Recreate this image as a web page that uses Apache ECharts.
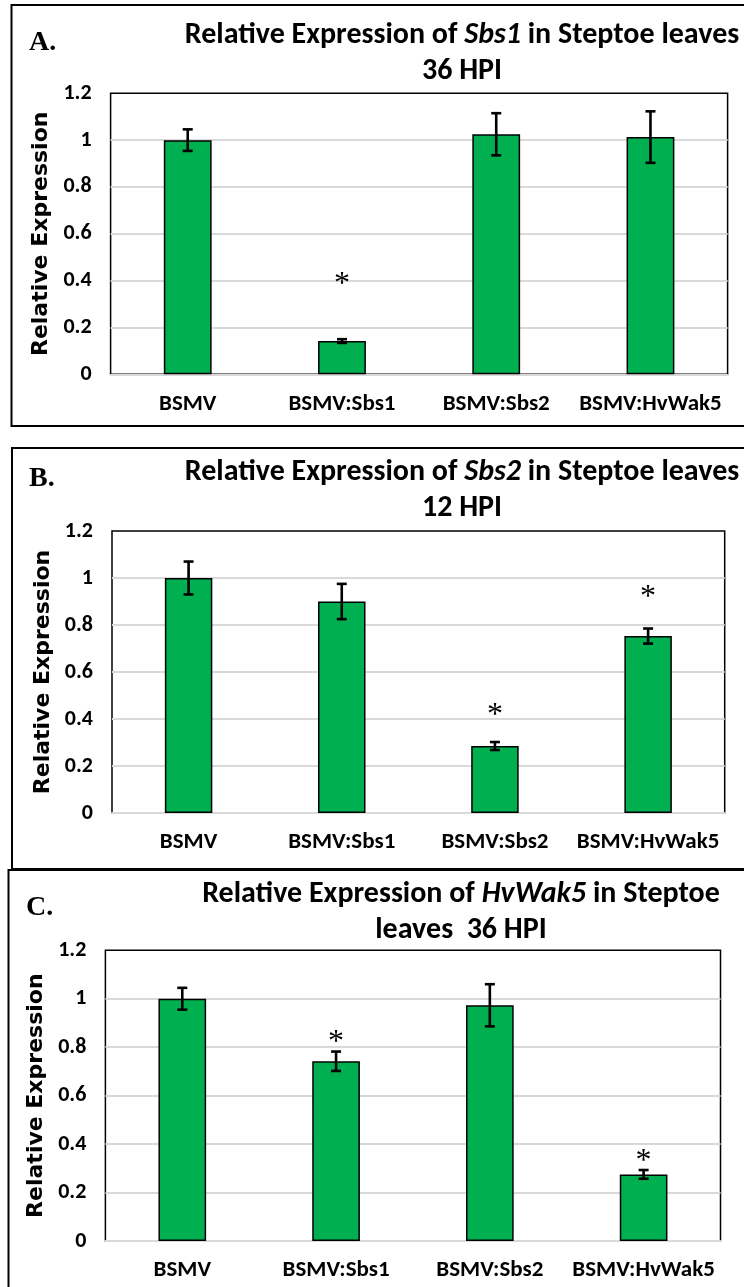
<!DOCTYPE html>
<html>
<head>
<meta charset="utf-8">
<script src="https://cdn.jsdelivr.net/npm/echarts@6/dist/echarts.min.js"></script>
<style>
  html, body { margin: 0; padding: 0; background: #fff; }
  #main { width: 744px; height: 1287px; }
</style>
</head>
<body>
<div id="main"></div>
<script>
const categories = ['BSMV', 'BSMV:Sbs1', 'BSMV:Sbs2', 'BSMV:HvWak5'];
const yTicks = [0, 0.2, 0.4, 0.6, 0.8, 1, 1.2];

// A. Sbs1, 36 HPI
const valuesA = [1.0, 0.142, 1.025, 1.013];
const errorsA = [0.046, 0.008, 0.09, 0.11];
const starsA = [null, 0.40, null, null];

// B. Sbs2, 12 HPI
const valuesB = [1.0, 0.90, 0.285, 0.753];
const errorsB = [0.07, 0.075, 0.017, 0.032];
const starsB = [null, null, 0.43, 0.935];

// C. HvWak5, 36 HPI
const valuesC = [1.0, 0.742, 0.973, 0.275];
const errorsC = [0.045, 0.04, 0.087, 0.018];
const starsC = [null, 0.837, null, 0.344];

const panels = [
  {
    letter: 'A.', values: valuesA, errors: errorsA, stars: starsA,
    title: '{n|Relative Expression of }{i|Sbs1}{n| in Steptoe leaves}\n{n|36 HPI}',
    grid: { left: 110.6, top: 93.3, width: 617, height: 281 },
    frame: [11.5, 5], letterPos: [29, 43], titlePos: [462, 53], nameGap: 58
  },
  {
    letter: 'B.', values: valuesB, errors: errorsB, stars: starsB,
    title: '{n|Relative Expression of }{i|Sbs2}{n| in Steptoe leaves}\n{n|12 HPI}',
    grid: { left: 112, top: 531, width: 612.7, height: 282 },
    frame: [12, 448], letterPos: [29, 479], titlePos: [462, 490], nameGap: 56
  },
  {
    letter: 'C.', values: valuesC, errors: errorsC, stars: starsC,
    title: '{n|Relative Expression of }{i|HvWak5}{n| in Steptoe}\n{n|leaves  36 HPI}',
    grid: { left: 105.4, top: 950.3, width: 615.1, height: 290.7 },
    frame: [8.5, 870], letterPos: [26, 908], titlePos: [461, 912], nameGap: 53
  }
];

const chart = echarts.init(document.getElementById('main'), null, { renderer: 'canvas' });

function errorBar(params, api) {
  const x = api.value(0);
  const lo = api.coord([x, api.value(1)]);
  const hi = api.coord([x, api.value(2)]);
  const cap = 5;
  const st = { stroke: '#000', lineWidth: 2.6 };
  return {
    type: 'group',
    children: [
      { type: 'line', shape: { x1: lo[0], y1: lo[1], x2: hi[0], y2: hi[1] }, style: st },
      { type: 'line', shape: { x1: lo[0] - cap, y1: lo[1], x2: lo[0] + cap, y2: lo[1] }, style: st },
      { type: 'line', shape: { x1: hi[0] - cap, y1: hi[1], x2: hi[0] + cap, y2: hi[1] }, style: st }
    ]
  };
}

function star(params, api) {
  const p = api.coord([api.value(0), api.value(1)]);
  return {
    type: 'text',
    x: p[0], y: p[1] + 4,
    style: {
      text: '*', fill: '#000', align: 'center', verticalAlign: 'middle',
      font: '32px "Liberation Serif", serif'
    }
  };
}

const titleFont = { fontFamily: 'Carlito', fontWeight: 'bold', fontSize: 30, lineHeight: 36, color: '#000' };

const option = {
  backgroundColor: '#fff',
  animation: false,
  grid: [],
  xAxis: [],
  yAxis: [],
  series: [],
  graphic: []
};

panels.forEach((p, k) => {
  // panel frame, letter and title
  option.graphic.push({
    type: 'rect', z: 0,
    shape: { x: p.frame[0], y: p.frame[1], width: 800, height: 421 },
    style: { fill: null, stroke: '#000', lineWidth: 2 }
  });
  option.graphic.push({
    type: 'text', x: p.letterPos[0], y: p.letterPos[1],
    style: {
      text: p.letter, fill: '#000', align: 'left', verticalAlign: 'middle',
      font: 'bold 28px "Liberation Serif", serif'
    }
  });
  option.graphic.push({
    type: 'text', x: p.titlePos[0], y: p.titlePos[1],
    style: {
      text: p.title, align: 'center', verticalAlign: 'middle', fill: '#000',
      rich: {
        n: titleFont,
        i: Object.assign({}, titleFont, { fontStyle: 'italic' })
      }
    }
  });

  option.grid.push(Object.assign({
    show: true, borderColor: '#000', borderWidth: 1.5, backgroundColor: '#fff', containLabel: false
  }, p.grid));

  option.xAxis.push({
    type: 'category', gridIndex: k, data: categories,
    axisTick: { show: false },
    axisLine: { show: true, lineStyle: { color: '#D9D9D9', width: 2 } },
    axisLabel: {
      interval: 0, margin: 18, color: '#000',
      fontFamily: 'Carlito', fontWeight: 'bold', fontSize: 23
    }
  });

  option.yAxis.push({
    type: 'value', gridIndex: k,
    min: yTicks[0], max: yTicks[yTicks.length - 1], interval: yTicks[1] - yTicks[0],
    name: 'Relative Expression', nameLocation: 'middle', nameGap: p.nameGap,
    nameTextStyle: { fontFamily: 'DejaVu Sans', fontWeight: 'bold', fontSize: 22, color: '#000' },
    axisLine: { show: false },
    axisTick: { show: false },
    axisLabel: {
      margin: 19, color: '#000',
      fontFamily: 'Carlito', fontWeight: 'bold', fontSize: 22
    },
    splitLine: { show: true, showMinLine: false, showMaxLine: false, lineStyle: { color: '#D9D9D9', width: 2 } }
  });

  option.series.push({
    type: 'bar', xAxisIndex: k, yAxisIndex: k,
    data: p.values, barWidth: '31%',
    itemStyle: { color: '#00B050', borderColor: '#000', borderWidth: 1.5 }
  });

  option.series.push({
    type: 'custom', xAxisIndex: k, yAxisIndex: k, z: 5,
    renderItem: errorBar,
    encode: { x: 0, y: [1, 2] },
    data: p.values.map((v, i) => [i, v - p.errors[i], v + p.errors[i]])
  });

  option.series.push({
    type: 'custom', xAxisIndex: k, yAxisIndex: k, z: 5,
    renderItem: star,
    encode: { x: 0, y: 1 },
    data: p.stars.map((v, i) => (v == null ? null : [i, v])).filter(d => d)
  });
});

chart.setOption(option);
</script>
</body>
</html>
